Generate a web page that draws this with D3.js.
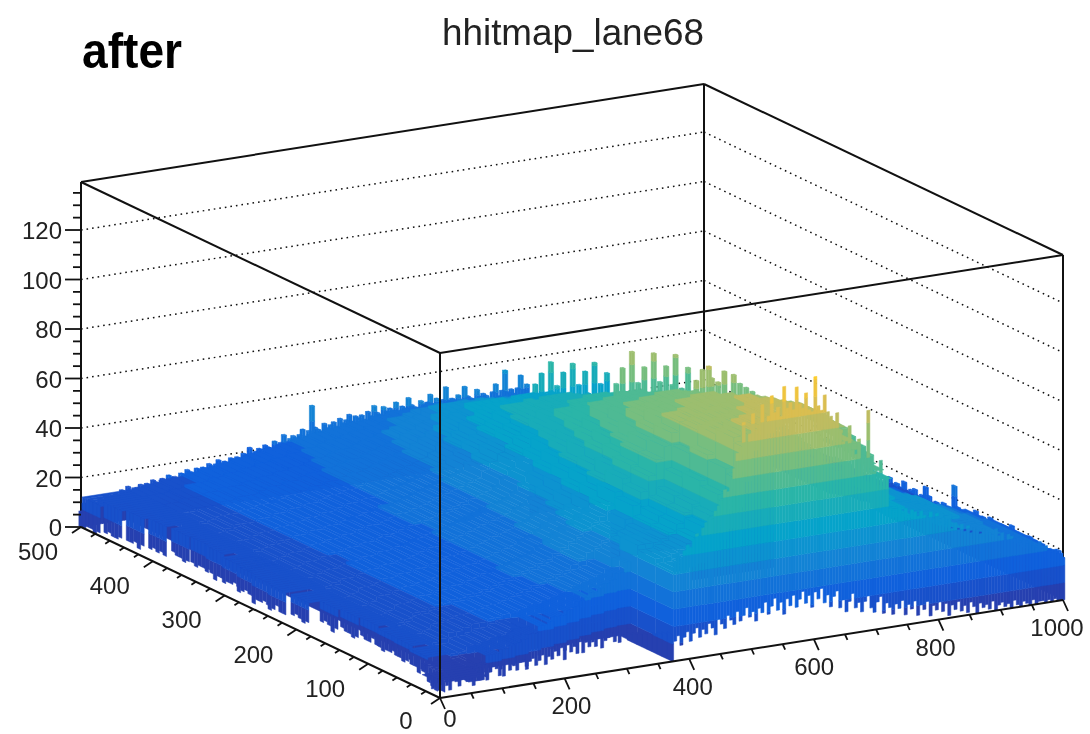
<!DOCTYPE html>
<html>
<head>
<meta charset="utf-8">
<script src="https://cdnjs.cloudflare.com/ajax/libs/d3/7.8.5/d3.min.js"></script>
<style>
html,body{margin:0;padding:0;background:#fff}
svg{display:block;filter:blur(0.6px)}
text{font-family:"Liberation Sans",sans-serif;fill:#222}
.lego{filter:blur(0.7px)}
</style>
</head>
<body>
<svg width="1090" height="734"></svg>
<script>
var titleText = "hhitmap_lane68";
var noteText = "after";
var xTicks = [0,200,400,600,800,1000];
var yTicks = [0,100,200,300,400,500];
var zTicks = [0,20,40,60,80,100,120];
var zTop = 139.4;

// palette and contour levels
var colorStops = ["#2d38a2","#0f5cdd","#1481d6","#06a4ca","#2eb7a4","#87bf77","#d1bb59","#fec832","#f9fb0e"];
var colorMax = 122;
var levelWidth = 7;

// bin contents, rows run from y=0 (front) to y=500 (back), 80 bins along x, 0 = empty
var zRows = [
[0,0,0,0,0,0,0,0,0,0,0,0,0,0,0,0,0,0,0,0,0,0,0,0,0,0,0,0,0,0,36,36,37,38,40,42,46,50,58,68,80,84,86,88,89,90,91,91,90,88,86,84,78,74,70,67,64,60,44,44,43,42,41,40,38,37,36,35,34,33,32,31,28,27,26,25,23,22,20,18],
[0,0,0,0,0,0,6,7,0,0,0,0,0,0,0,0,0,0,0,0,0,0,0,0,0,0,0,0,0,0,38,38,39,40,42,44,48,52,60,70,82,84,85,86,87,88,89,89,89,88,87,85,82,78,74,72,70,66,50,46,44,43,42,41,40,39,38,37,36,34,33,32,29,28,26,25,24,22,21,19],
[0,0,0,0,0,0,8,8,10,10,11,12,12,13,14,14,0,0,0,0,0,0,0,0,0,0,0,0,0,0,40,40,40,41,43,46,50,53,62,72,80,81,82,83,84,85,86,87,87,86,85,84,83,80,78,76,74,70,64,50,46,44,43,42,41,40,39,38,36,34,33,31,29,28,26,25,24,22,21,19],
[0,0,0,0,0,0,9,10,12,12,13,14,14,15,15,16,16,17,18,18,19,20,21,22,23,24,25,26,28,32,34,36,38,40,43,46,50,53,60,69,78,79,80,81,82,83,84,85,85,84,83,82,80,79,77,75,72,68,62,54,48,45,43,42,40,39,38,36,35,33,32,30,28,27,25,24,23,21,20,19],
[0,0,0,0,0,0,9,10,12,12,13,14,14,15,15,16,16,17,18,19,20,21,22,23,24,25,27,29,31,33,35,37,38,42,47,52,58,64,69,74,78,78,79,80,80,81,82,82,82,80,78,75,72,69,66,63,60,57,54,50,46,43,41,40,38,37,36,35,33,31,30,28,27,26,24,23,22,21,20,18],
[0,0,0,0,0,0,10,11,13,13,14,15,15,16,16,17,17,18,19,20,21,22,23,24,25,26,28,30,32,34,36,38,40,44,49,54,59,64,68,72,76,76,77,77,78,78,79,79,79,77,75,72,70,67,64,61,58,55,52,49,46,42,38,34,33,32,31,29,28,27,26,24,23,22,21,20,19,18,18,16],
[0,0,0,0,0,0,10,11,13,13,14,15,15,16,16,17,17,18,19,20,20,21,22,23,24,25,27,28,30,32,34,36,38,42,46,50,55,60,64,69,73,73,74,74,75,75,76,76,76,74,72,70,68,65,62,60,57,54,51,48,45,42,38,34,30,29,28,27,25,24,23,22,20,19,19,18,17,17,16,15],
[0,0,0,0,0,0,10,11,13,13,14,15,15,16,16,17,17,18,19,20,20,21,22,23,24,25,26,27,29,30,32,34,36,40,44,48,52,58,62,66,70,70,71,71,72,72,73,73,73,72,70,68,66,64,61,59,56,53,50,47,44,41,37,33,30,29,28,26,25,24,23,21,20,19,18,17,17,16,15,14],
[0,0,0,0,0,0,10,11,13,13,14,15,15,16,16,17,17,18,19,20,20,21,22,23,24,25,26,27,28,29,31,32,34,38,42,46,50,55,59,63,67,67,68,68,68,69,69,69,69,68,66,65,63,61,59,57,55,52,49,46,43,40,37,33,30,29,28,26,25,24,23,21,20,19,18,17,17,16,15,14],
[0,0,0,0,0,0,11,12,13,13,14,15,15,16,16,17,17,18,19,20,20,21,22,23,24,25,26,27,28,29,30,31,33,36,40,44,48,52,55,59,63,63,64,64,65,65,66,66,66,64,63,61,60,58,56,54,52,50,47,44,42,39,36,33,30,29,28,26,25,24,23,21,20,19,18,17,16,15,14,13],
[0,0,0,0,0,0,11,12,13,13,14,14,15,16,16,17,17,18,18,19,20,21,21,22,23,24,24,25,26,28,29,30,32,35,38,42,45,49,52,56,59,59,60,60,61,61,62,62,62,61,59,58,56,54,52,51,49,47,45,42,40,37,34,31,29,28,27,26,24,23,22,21,20,19,18,17,16,15,14,13],
[0,0,0,0,0,0,11,12,13,13,14,15,15,16,16,17,17,18,19,19,20,21,22,22,23,24,25,26,27,28,29,30,31,34,37,40,43,46,49,52,55,55,56,56,57,57,58,58,58,57,55,54,52,51,49,48,46,44,42,39,37,35,33,31,29,28,27,25,24,23,22,20,19,18,18,17,16,15,14,13],
[0,0,0,0,0,0,11,12,13,13,14,15,15,16,16,17,17,18,19,19,20,21,22,22,23,24,25,26,27,28,29,30,31,34,37,40,42,45,47,50,52,52,53,53,53,54,54,54,54,53,52,50,49,48,46,45,43,41,39,37,35,33,31,29,28,27,26,25,24,22,21,20,19,18,18,17,16,15,14,13],
[0,0,0,0,0,0,12,12,13,14,14,15,15,16,16,17,17,18,18,19,20,20,21,21,22,23,24,25,26,27,28,29,30,33,35,38,40,43,45,48,50,50,50,51,50,51,51,51,51,50,49,48,46,45,44,42,41,39,37,36,34,32,30,28,27,26,25,24,23,22,21,20,19,18,18,17,16,15,14,13],
[0,0,0,0,0,0,12,12,13,14,14,15,15,16,16,17,17,18,18,19,20,20,21,21,22,23,23,24,25,26,27,28,29,31,34,36,38,41,43,45,47,47,47,47,48,47,48,48,48,47,46,45,44,43,41,40,39,38,36,34,32,31,29,27,26,25,24,23,22,21,20,19,18,18,17,16,16,15,14,13],
[0,0,0,0,0,0,12,13,14,14,14,15,15,16,16,17,17,18,18,19,20,20,21,21,22,23,23,24,25,26,27,28,29,31,33,35,37,39,41,42,44,44,44,44,44,43,44,44,44,43,42,41,40,39,38,37,36,35,34,32,31,29,28,26,25,24,23,23,22,21,20,19,18,18,17,16,16,15,14,13],
[0,0,0,0,0,0,13,13,14,14,14,15,15,16,16,16,17,18,18,19,19,20,21,21,22,22,23,24,24,25,26,27,28,29,31,32,34,35,37,38,40,40,40,40,39,40,39,39,39,38,38,37,36,36,35,34,33,32,31,30,28,27,26,25,24,23,23,22,21,21,20,19,18,18,17,16,16,15,14,13],
[0,0,0,0,0,0,13,13,14,14,14,15,15,16,16,16,17,17,18,18,19,19,20,20,21,22,22,23,24,24,25,26,27,28,29,30,31,32,33,35,36,36,36,36,36,35,36,35,35,35,34,34,33,33,32,31,30,29,29,28,27,26,25,24,23,23,22,21,21,20,20,19,18,18,17,16,16,15,14,13],
[0,0,0,0,0,0,13,13,13,14,14,15,15,15,16,16,17,17,18,18,19,19,20,20,21,21,22,22,23,24,24,25,26,26,27,27,28,29,29,30,31,31,31,32,31,31,32,31,31,31,30,30,30,29,29,29,28,28,27,26,26,25,24,23,22,22,21,21,20,20,19,19,18,17,17,16,15,15,14,13],
[0,0,0,0,0,0,12,12,13,13,14,14,14,15,15,16,16,17,17,18,18,19,19,20,20,21,21,22,22,23,23,24,24,24,25,25,25,26,26,27,27,27,27,27,28,27,27,28,27,27,27,26,26,26,26,25,25,24,24,24,23,23,22,22,21,21,20,20,19,19,18,18,17,17,16,16,15,15,14,13]
];

// fine bins along the silhouette and the edges
var rearEdgeZ = [6,9,8,10,9,8,10,9,11,10,10,11,10,12,11,13,11,12,12,13,12,13,12,14,13,12,14,13,15,14,14,13,15,14,16,15,14,16,15,16,15,17,16,15,18,16,17,16,18,17,18,17,19,18,21,18,19,20,18,21,20,19,22,20,21,24,21,22,23,22,23,25,22,24,34,25,24,23,26,24,25,26,24,27,25,26,28,25,27,26,27,25,28,26,30,27,26,29,27,28,27,30,26,28,27,31,28,27,26,29,27,28,31,27,29,26,28,33,27,28,26,29,27,32,28,27,26,30,27,28,27,25,28,31,26,28,36,27,28,26,28,33,27,29];
var rightEdgeZ = [17,19,16,18,17,16,18,16,17,19,17,16,18,16,20,17,16,18,16,17,19,16,18,17,19,14,15,16,14,17,25,15,14,16,14,15,14,16,19,15,14,16,15,14,17,14,15,14,16,14];
var crestBZ = [45,52,44,56,46,47,60,45,50,44,55,46,45,58,44,49,43,54,45,44,57,43,48,42,52,43];
var crestCZ = [63,70,62,76,64,66,82,62,69,61,75,63,62,80,61,68,62,74,60,66,78,61,64,60,72,61];
var crestDZ = [73,80,72,84,74,85,80,72,78,71,82,72,71,80,70,76,66,74,62,72,60,64,58,68,56,60];
var crestSheets = [
  {y:375, x0:576, z:crestBZ},
  {y:250, x0:562, z:crestCZ},
  {y:175, x0:604, z:crestDZ}
];
// front wall from x=375 to x=1000, with the height of its white gap below
var wallZ = [40,42,41,44,46,45,48,50,49,52,54,56,55,58,60,62,66,65,70,74,80,82,92,84,87,95,88,90,98,91,93,101,94,96,92,104,95,97,94,103,96,94,100,93,92,106,94,92,98,91,89,86,90,82,78,76,84,74,72,78,70,68,89,66,64,62,68,60,61,48,47,46,48,45,47,44,46,45,43,45,43,42,44,41,43,39,41,38,40,36,38,35,37,34,36,33,35,34,32,34,33,32,31,33,30,31,28,30,29,28,28,26,27,25,26,24,23,25,22,23,21,20,21,19,19];
var wallGap = [8,10,6,9,11,7,10,12,8,11,9,13,11,8,14,12,10,15,13,11,16,12,14,17,13,15,11,16,14,18,13,16,19,14,17,12,18,15,19,14,17,20,15,18,13,19,16,20,14,17,12,16,18,11,14,9,13,16,10,12,8,12,14,9,7,11,13,6,10,8,5,9,7,10,4,8,6,9,3,7,5,8,2,6,4,7,3,6,1,5,3,6,2,4,1,5,3,0,4,2,3,1,4,0,2,3,1,2,0,3,1,0,2,1,0,2,0,1,1,0,1,0,1,0,0];
// front edge below x=375
var frontY = [12,14,16,20,23,26,29,33,37,41,45,50,54,58,60];
var frontGap = [2,4,1,3,5,2,0,4,3,1,3,5,2,4,0,3,5,1,4,2,0,3,5,4,1,3,0,5,2,4,3,1,4,5,2,0,3,4,1,5,2,4,0,3,6,1,4,2,5,0,3,5,2,4,1,3,6,0,4,2,5,3,1,4,0,6,2,3,5,1,4,0,3,2,5];
var leftX = [8,28,38,42,44,45,42,38,20,12,15,20,25,28,32,30,22,15,8,2];
var leftGap = [2,2,1,2,3,2,2,1,2,3,2,2,0,2,2,3,2,1,2,2,3,2,2,1,2,2,4,2,2,3,2,1,2,2,3,2,0,2,3,2,2,1,2,3,2,2,2,4,2,1,2,3,2,2,0,2,2,3,2,1,2,3,2,2,1,2,2,0,2,3,1,2,2,1,2,2,1,2,2,3,1,2,1,2,1,2,0,2,1,1,2,1,1,2,1,1,0,1,1,0];
var notchZ = [11,10,9,8,7,6,5,4,3];

var originP = 440, originQ = 698;
var xP = d3.scaleLinear().domain([0,1000]).range([0,623]);
var xQ = d3.scaleLinear().domain([0,1000]).range([0,-98]);
var yP = d3.scaleLinear().domain([0,500]).range([0,-359]);
var yQ = d3.scaleLinear().domain([0,500]).range([0,-171]);
var zQ = d3.scaleLinear().domain([0,zTop]).range([0,-345]);
var color = d3.scaleLinear()
  .domain(colorStops.map(function(d,i){ return i*colorMax/(colorStops.length-1); }))
  .range(colorStops).clamp(true);

function project(x,y,z){
  return [originP + xP(x) + yP(y), originQ + xQ(x) + yQ(y) + zQ(z)];
}
function levelOf(z){ return Math.floor(z/levelWidth); }
function levelColor(l){ return color((l+0.5)*levelWidth); }

var svg = d3.select("svg");
var pathOf = d3.line();
var shapes = [];

function addPoly(pts,fill){
  shapes.push({d: pathOf(pts)+"Z", fill: fill});
}
function wall(a,b,zLo,zHi){
  // a,b are [x,y]; the wall is cut in z levels, that gives the bands
  if (zHi <= zLo) return;
  for (var l = levelOf(zLo); l*levelWidth < zHi; l++){
    var z0 = Math.max(zLo,l*levelWidth), z1 = Math.min(zHi,(l+1)*levelWidth);
    addPoly([project(a[0],a[1],z0),project(b[0],b[1],z0),project(b[0],b[1],z1),project(a[0],a[1],z1)],levelColor(l));
  }
}
function topFace(x0,x1,y0,y1,z){
  addPoly([project(x0,y0,z),project(x1,y0,z),project(x1,y1,z),project(x0,y1,z)],levelColor(levelOf(z-0.01)));
}
function drawBar(b){
  if (b.z <= 0) return;
  wall([b.x0,b.y1],[b.x0,b.y0],b.leftLo||0,b.z);
  wall([b.x0,b.y0],[b.x1,b.y0],b.frontLo||0,b.z);
  topFace(b.x0,b.x1,b.y0,b.y1,b.z);
}

var xBin = 12.5, yBin = 25;
function firstRow(c){
  for (var r = 0; r < zRows.length; r++) if (zRows[r][c] > 0) return r;
  return 0;
}

// everything that goes in depth order
var bars = [];
zRows.forEach(function(row,r){
  row.forEach(function(z,c){
    bars.push({
      x0:c*xBin, x1:(c+1)*xBin, y0:r*yBin, y1:(r+1)*yBin, z:z,
      // the first row above x=375 hangs behind the wall, no face of its own
      frontLo: r > 0 ? Math.min(zRows[r-1][c],z) : z,
      leftLo: c > 0 ? Math.min(row[c-1],z) : 0
    });
  });
});
rearEdgeZ.forEach(function(z,i){
  bars.push({x0:i*5, x1:i*5+5, y0:500, y1:503, z:z});
});
rightEdgeZ.forEach(function(z,i){
  bars.push({x0:1000, x1:1003, y0:i*5, y1:i*5+5, z:z});
});
crestSheets.forEach(function(s){
  s.z.forEach(function(z,i){
    bars.push({x0:s.x0+i*5, x1:s.x0+i*5+5, y0:s.y-3, y1:s.y, z:z});
  });
});
bars.sort(function(a,b){ return (b.y0-a.y0) || (b.x0-a.x0); });
bars.forEach(drawBar);

// front wall
wallZ.forEach(function(z,i){
  var x = 375+i*5;
  wall([x,0],[x+5,0],wallGap[i],z);
});
// front edge, right to left
d3.range(frontGap.length-1,-1,-1).forEach(function(i){
  var x = i*5, c = Math.max(Math.floor(x/xBin),6), r = firstRow(c);
  var y = frontY[Math.floor(x/25)], z = zRows[r][c];
  if (y >= r*yBin) return;
  topFace(x,x+5,y,r*yBin,z);
  wall([x,y],[x+5,y],frontGap[i],z);
});
// left edge, back to front
d3.range(leftGap.length-1,-1,-1).forEach(function(i){
  var y = i*5, x = leftX[Math.floor(y/25)];
  var r = Math.max(Math.floor(y/yBin),firstRow(6)), z = zRows[r][6];
  topFace(x,75,y,y+5,z);
  wall([x,y+5],[x,y],leftGap[i],z);
});
// the dark notch next to the empty corner
notchZ.forEach(function(z,i){
  wall([373,i*7+7],[373,i*7],0,z);
});

// back walls and dotted grid
var gridLines = [];
zTicks.slice(1).forEach(function(z){
  gridLines.push([project(0,500,z),project(1000,500,z)]);
  gridLines.push([project(1000,500,z),project(1000,0,z)]);
});
svg.append("g").selectAll("path").data(gridLines).join("path")
  .attr("d",pathOf).attr("fill","none").attr("stroke","#111")
  .attr("stroke-width",1.5).attr("stroke-dasharray","1.6 4");

var backLines = [
  [project(0,500,0),project(0,500,zTop)],
  [project(1000,500,0),project(1000,500,zTop)],
  [project(1000,0,0),project(1000,0,zTop)],
  [project(0,500,zTop),project(1000,500,zTop)],
  [project(1000,500,zTop),project(1000,0,zTop)]
];
svg.append("g").selectAll("path").data(backLines).join("path")
  .attr("d",pathOf).attr("fill","none").attr("stroke","#111").attr("stroke-width",2);

svg.append("g").attr("class","lego").selectAll("path").data(shapes).join("path")
  .attr("d",function(d){ return d.d; })
  .attr("fill",function(d){ return d.fill; })
  .attr("stroke",function(d){ return d.fill; })
  .attr("stroke-width",0.5);

var frontLines = [
  [project(0,0,0),project(0,0,zTop)],
  [project(0,500,zTop),project(0,0,zTop)],
  [project(0,0,zTop),project(1000,0,zTop)],
  [project(0,500,0),project(0,0,0)],
  [project(0,0,0),project(1000,0,0)]
];
svg.append("g").selectAll("path").data(frontLines).join("path")
  .attr("d",pathOf).attr("fill","none").attr("stroke","#111").attr("stroke-width",2);

// ticks
var tickLines = [];
d3.range(0,1001,50).forEach(function(x){
  var p = project(x,0,0), major = x%200 === 0, k = major ? 1 : 0.5;
  tickLines.push([p,[p[0]+5*k,p[1]+11*k]]);
});
d3.range(0,501,20).forEach(function(y){
  var p = project(0,y,0), major = y%100 === 0, k = major ? 1 : 0.5;
  tickLines.push([p,[p[0]-9*k,p[1]+6*k]]);
});
d3.range(0,136,5).forEach(function(z){
  var p = project(0,500,z), major = z%20 === 0;
  tickLines.push([p,[p[0]-(major?16:8),p[1]]]);
});
svg.append("g").selectAll("path.tick").data(tickLines).join("path")
  .attr("d",pathOf).attr("fill","none").attr("stroke","#111").attr("stroke-width",1.8);

var fontSize = 24;
svg.append("g").selectAll("text").data(xTicks).join("text")
  .attr("x",function(d){ return project(d,0,0)[0]+10-16*d/1000; })
  .attr("y",function(d){ return project(d,0,0)[1]+(d===0?29:36); })
  .attr("text-anchor","middle").attr("font-size",fontSize)
  .text(function(d){ return d; });
svg.append("g").selectAll("text").data(yTicks).join("text")
  .attr("x",function(d){ return project(0,d,0)[0]+(d===0?-34:-43); })
  .attr("y",function(d){ return project(0,d,0)[1]+(d===0?31:33); })
  .attr("text-anchor","middle").attr("font-size",fontSize)
  .text(function(d){ return d; });
svg.append("g").selectAll("text").data(zTicks).join("text")
  .attr("x",62)
  .attr("y",function(d){ return project(0,500,d)[1]+9; })
  .attr("text-anchor","end").attr("font-size",fontSize)
  .text(function(d){ return d; });

svg.append("text").attr("x",442).attr("y",45)
  .attr("font-size",36).attr("textLength",262).attr("lengthAdjust","spacingAndGlyphs")
  .text(titleText);
svg.append("text").attr("x",82).attr("y",68)
  .attr("font-size",50).attr("font-weight","bold").style("fill","#000")
  .attr("textLength",100).attr("lengthAdjust","spacingAndGlyphs")
  .text(noteText);
</script>
</body>
</html>
